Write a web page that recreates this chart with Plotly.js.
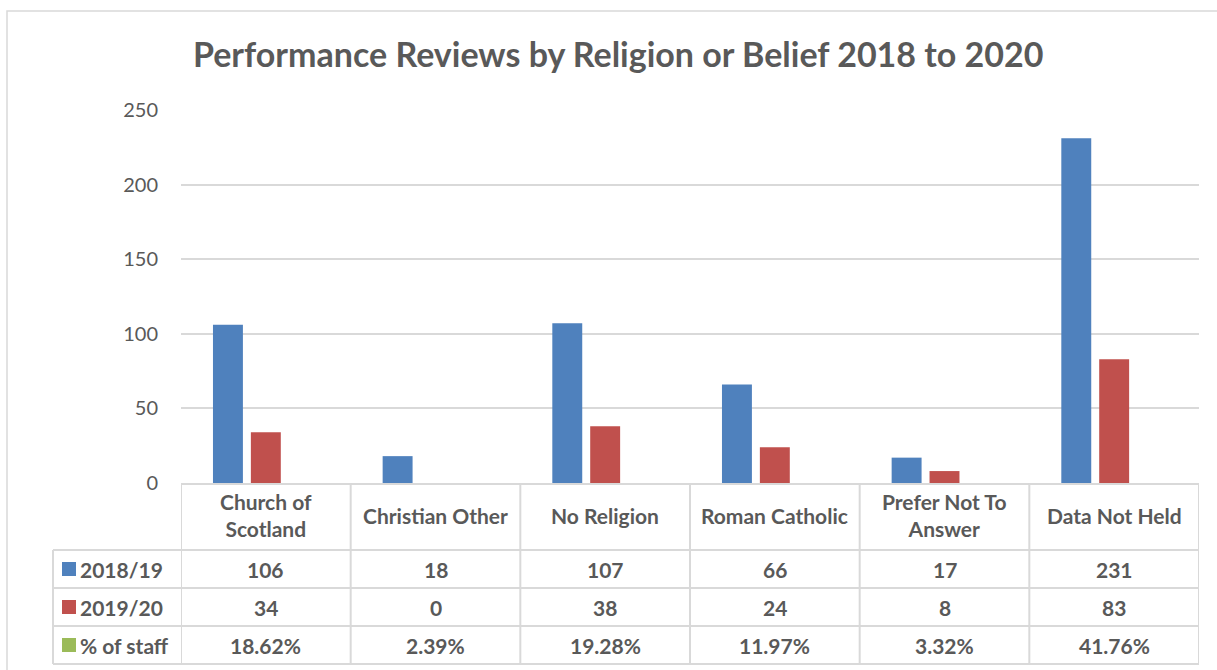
<!DOCTYPE html>
<html>
<head>
<meta charset="utf-8">
<script src="https://cdn.plot.ly/plotly-3.0.1.min.js"></script>
<style>html,body{margin:0;padding:0;background:#fff;}#chart{width:1217px;height:670px;}</style>
</head>
<body>
<div id="chart"></div>
<script>
// ---- data ----
const categories = ["Church of<br>Scotland", "Christian Other", "No Religion", "Roman Catholic", "Prefer Not To<br>Answer", "Data Not Held"];
const series2018 = [106, 18, 107, 66, 17, 231];
const series2019 = [34, 0, 38, 24, 8, 83];
const staffPct = [18.62, 2.39, 19.28, 11.97, 3.32, 41.76];
const seriesNames = ["2018/19", "2019/20", "% of staff"];
const yTicks = [0, 50, 100, 150, 200, 250];

// ---- style ----
const W = 1217, H = 670;
const L = 181, R = 1199, T = 110, B = 483;
const colors = ["#4F81BD", "#C0504D", "#9BBB59"];
const txt = "#595959", grid = "#D9D9D9";
const FONT = "Lato, 'Open Sans', sans-serif";

const px = x => (x - L) / (R - L);
const py = y => (B - y) / (B - T);

const idx = categories.map((_, i) => i);
const traces = [
  {type: "bar", x: idx, y: series2018, name: seriesNames[0], marker: {color: colors[0], line: {width: 0}}, hoverinfo: "y"},
  {type: "bar", x: idx, y: series2019, name: seriesNames[1], marker: {color: colors[1], line: {width: 0}}, hoverinfo: "y"},
  // % of staff is plotted as a fraction on the count axis, so its bars are sub-pixel (invisible), as in the original
  {type: "bar", x: idx, y: staffPct.map(v => v / 100), name: seriesNames[2], marker: {color: colors[2], opacity: 0, line: {width: 0}}, hoverinfo: "y"}
];

const shapes = [];
const annotations = [];
const line = {color: grid, width: 2};

// outer chart border
shapes.push({type: "rect", xref: "paper", yref: "paper", x0: px(7), x1: px(1225), y0: py(11), y1: py(680), line: {color: grid, width: 1.5}});

// table rows (pixel positions)
const rowLines = [550, 588, 626, 664];
const tableLeft = 53, tableTop = B;
rowLines.forEach(y => shapes.push({type: "line", xref: "paper", yref: "paper", x0: px(tableLeft), x1: px(R), y0: py(y), y1: py(y), line}));
// left border
shapes.push({type: "line", xref: "paper", yref: "paper", x0: px(tableLeft), x1: px(tableLeft), y0: py(550), y1: py(664), line});
// vertical column separators
for (let i = 0; i <= categories.length; i++) {
  shapes.push({type: "line", xref: "x", yref: "paper", x0: i - 0.5, x1: i - 0.5, y0: py(tableTop), y1: py(664), line});
}

const TS = 21;
// header labels
categories.forEach((c, i) => annotations.push({xref: "x", yref: "paper", x: i, y: py(515), text: c, showarrow: false,
  font: {family: FONT, size: TS, color: txt, weight: 700}, xanchor: "center", yanchor: "middle"}));

const rowsData = [series2018.map(String), series2019.map(String), staffPct.map(v => v.toFixed(2) + "%")];
const rowCenters = [569, 607, 645];
rowsData.forEach((row, r) => {
  row.forEach((v, i) => annotations.push({xref: "x", yref: "paper", x: i, y: py(rowCenters[r]), text: v, showarrow: false,
    font: {family: FONT, size: TS, color: txt, weight: 700}, xanchor: "center", yanchor: "middle"}));
  // legend key square
  shapes.push({type: "rect", xref: "paper", yref: "paper", x0: px(62), x1: px(76), y0: py(rowCenters[r] - 7), y1: py(rowCenters[r] + 7),
    fillcolor: colors[r], line: {width: 0}});
  annotations.push({xref: "paper", yref: "paper", x: px(78), y: py(rowCenters[r]), text: seriesNames[r], showarrow: false,
    font: {family: FONT, size: TS, color: txt, weight: 700}, xanchor: "left", yanchor: "middle"});
});

const layout = {
  width: W, height: H,
  margin: {l: L, r: W - R, t: T, b: H - B, pad: 0},
  paper_bgcolor: "#fff", plot_bgcolor: "#fff",
  title: {text: "Performance Reviews by Religion or Belief 2018 to 2020", x: 0.508, xanchor: "center", y: 1 - 55 / H, yanchor: "middle",
    font: {family: FONT, size: 34, color: txt, weight: 700}},
  showlegend: false,
  barmode: "group", bargap: 0.33, bargroupgap: 0.21,
  xaxis: {range: [-0.5, categories.length - 0.5], showticklabels: false, ticks: "", showgrid: false, zeroline: false,
    showline: true, linecolor: grid, linewidth: 2, fixedrange: true},
  yaxis: {range: [0, 250], tickvals: yTicks, ticktext: yTicks.map(String), showgrid: true, gridcolor: grid, gridwidth: 2,
    zeroline: false, showline: false, ticks: "", ticklabelstandoff: 22,
    tickfont: {family: FONT, size: 20, color: txt}, fixedrange: true},
  shapes, annotations
};

Plotly.newPlot("chart", traces, layout, {displayModeBar: false, responsive: false});
</script>
</body>
</html>
